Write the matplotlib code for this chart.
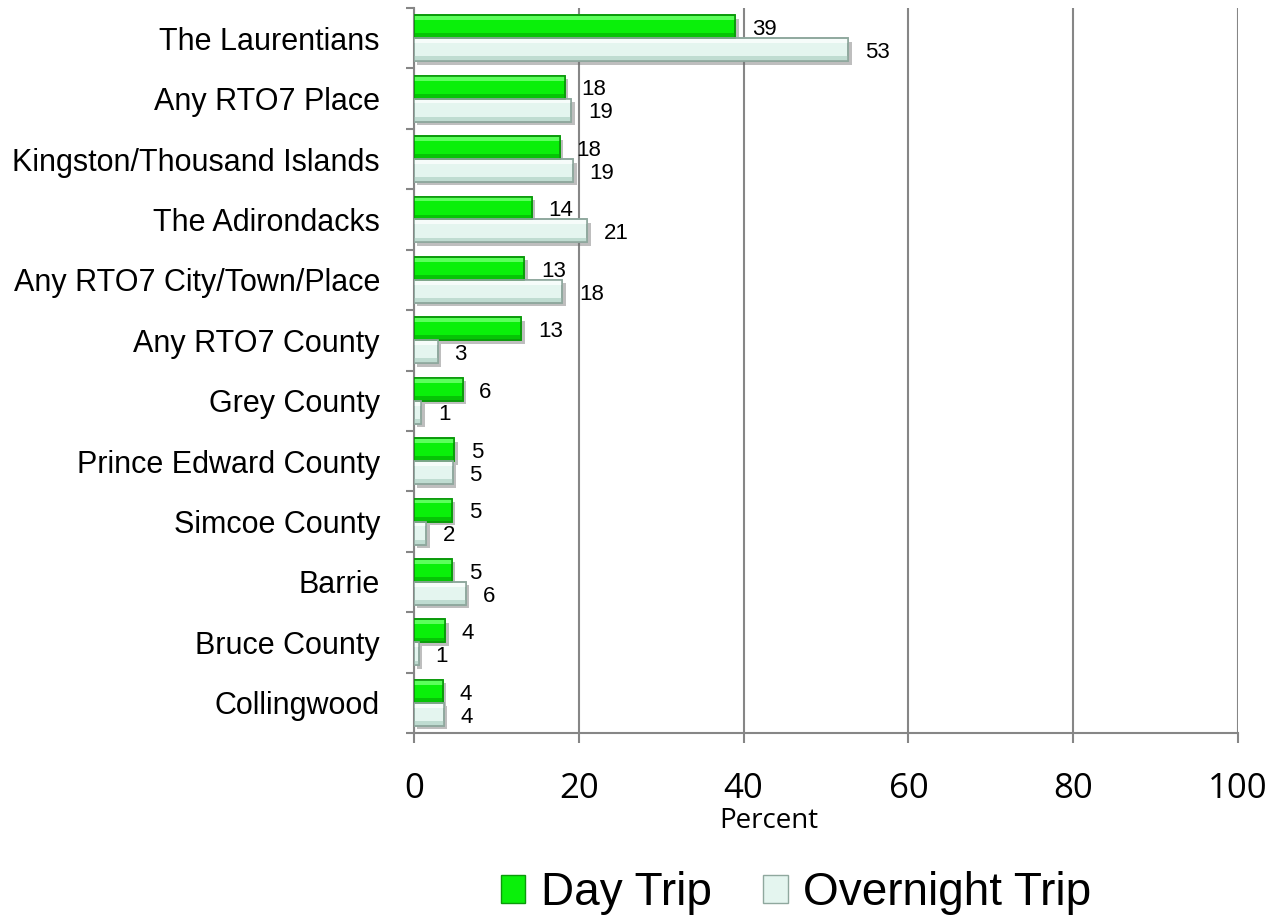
import numpy as np
import matplotlib
matplotlib.use('Agg')
import matplotlib.pyplot as plt
from matplotlib import font_manager
from matplotlib.patches import Patch
import matplotlib.patheffects as pe

categories = ['The Laurentians', 'Any RTO7 Place', 'Kingston/Thousand Islands',
              'The Adirondacks', 'Any RTO7 City/Town/Place', 'Any RTO7 County',
              'Grey County', 'Prince Edward County', 'Simcoe County', 'Barrie',
              'Bruce County', 'Collingwood']
day_trip = [39.0, 18.3, 17.7, 14.3, 13.4, 13.0, 5.9, 4.9, 4.6, 4.6, 3.8, 3.5]
overnight_trip = [52.7, 19.1, 19.3, 21.0, 18.0, 2.9, 0.9, 4.7, 1.5, 6.3, 0.6, 3.6]
series_names = ['Day Trip', 'Overnight Trip']
xticks = [0, 20, 40, 60, 80, 100]

names = {f.name for f in font_manager.fontManager.ttflist}
if 'Liberation Sans Narrow' in names:
    narrow, cat_size = 'Liberation Sans Narrow', 26
else:
    narrow, cat_size = 'Liberation Sans', 22

GRID = '#868686'
DAY, DAY_EDGE, DAY_TOP, DAY_BOT = '#0AF00A', '#0A9A0A', '#5CFF5C', '#06C406'
OVN, OVN_EDGE, OVN_TOP, OVN_BOT = '#E4F5EF', '#8FA89E', '#F6FCFA', '#BFDCD1'

fig = plt.figure(figsize=(12.75, 9.18), dpi=100)
ax = fig.add_axes([414/1275, 1-733/918, (1238-414)/1275, (733-8)/918])

n = len(categories)
y = np.arange(n)
h = 0.38
off = 0.19
bev = 0.07
shadow = [pe.SimplePatchShadow(offset=(2.5, -2.5), shadow_rgbFace='#6f6f6f', alpha=0.45), pe.Normal()]


def bevel_bars(pos, vals, fill, edge, top, bot):
    bars = ax.barh(pos, vals, height=h, color=fill, edgecolor=edge, linewidth=1.2, zorder=3)
    for bar in bars:
        bar.set_path_effects(shadow)
    ax.barh(pos - h / 2 + bev / 2 + 0.01, vals, height=bev, color=top, linewidth=0, zorder=3.1)
    ax.barh(pos + h / 2 - bev / 2 - 0.01, vals, height=bev, color=bot, linewidth=0, zorder=3.1)
    ax.barh(pos, vals, height=h, facecolor='none', edgecolor=edge, linewidth=1.2, zorder=3.2)
    return bars


bevel_bars(y - off, day_trip, DAY, DAY_EDGE, DAY_TOP, DAY_BOT)
bevel_bars(y + off, overnight_trip, OVN, OVN_EDGE, OVN_TOP, OVN_BOT)

for pos, vals in ((y - off, day_trip), (y + off, overnight_trip)):
    for yi, v in zip(pos, vals):
        ax.annotate(f"{int(v + 0.5)}", xy=(v, yi), xytext=(12, -2),
                    textcoords='offset points', ha='left', va='center',
                    fontsize=16, family='Liberation Sans', color='black', zorder=4)

ax.set_xlim(0, 100)
ax.set_ylim(n - 0.5, -0.5)
ax.set_xticks(xticks)
ax.set_xticklabels([str(t) for t in xticks], fontsize=25, family='Open Sans')
ax.tick_params(axis='x', length=7, width=1.5, color=GRID, pad=21)
ax.set_yticks(y)
ax.set_yticklabels(categories, fontsize=cat_size, family=narrow)
ax.set_yticks(np.arange(-0.5, n, 1), minor=True)
ax.tick_params(axis='y', which='major', length=0, pad=24.5)
ax.tick_params(axis='y', which='minor', length=6, width=1.5, color=GRID)

ax.xaxis.grid(True, color=GRID, linewidth=1.5)
ax.set_axisbelow(True)
for s in ['top', 'right']:
    ax.spines[s].set_visible(False)
for s in ['left', 'bottom']:
    ax.spines[s].set_color(GRID)
    ax.spines[s].set_linewidth(1.5)

ax.set_xlabel('Percent', fontsize=20, family='Open Sans')
ax.xaxis.set_label_coords((769 - 414) / 824, -74 / 725)

handles = [Patch(facecolor=DAY, edgecolor=DAY_EDGE),
           Patch(facecolor=OVN, edgecolor=OVN_EDGE)]
fig.legend(handles, series_names, loc='center', bbox_to_anchor=(796/1275, 1 - 893/918),
           ncol=2, frameon=False, prop={'family': 'Liberation Sans', 'size': 33},
           handlelength=0.54, handleheight=0.57, handletextpad=0.33, columnspacing=1.13,
           borderpad=0, borderaxespad=0)

fig.savefig('out.png', dpi=100)
